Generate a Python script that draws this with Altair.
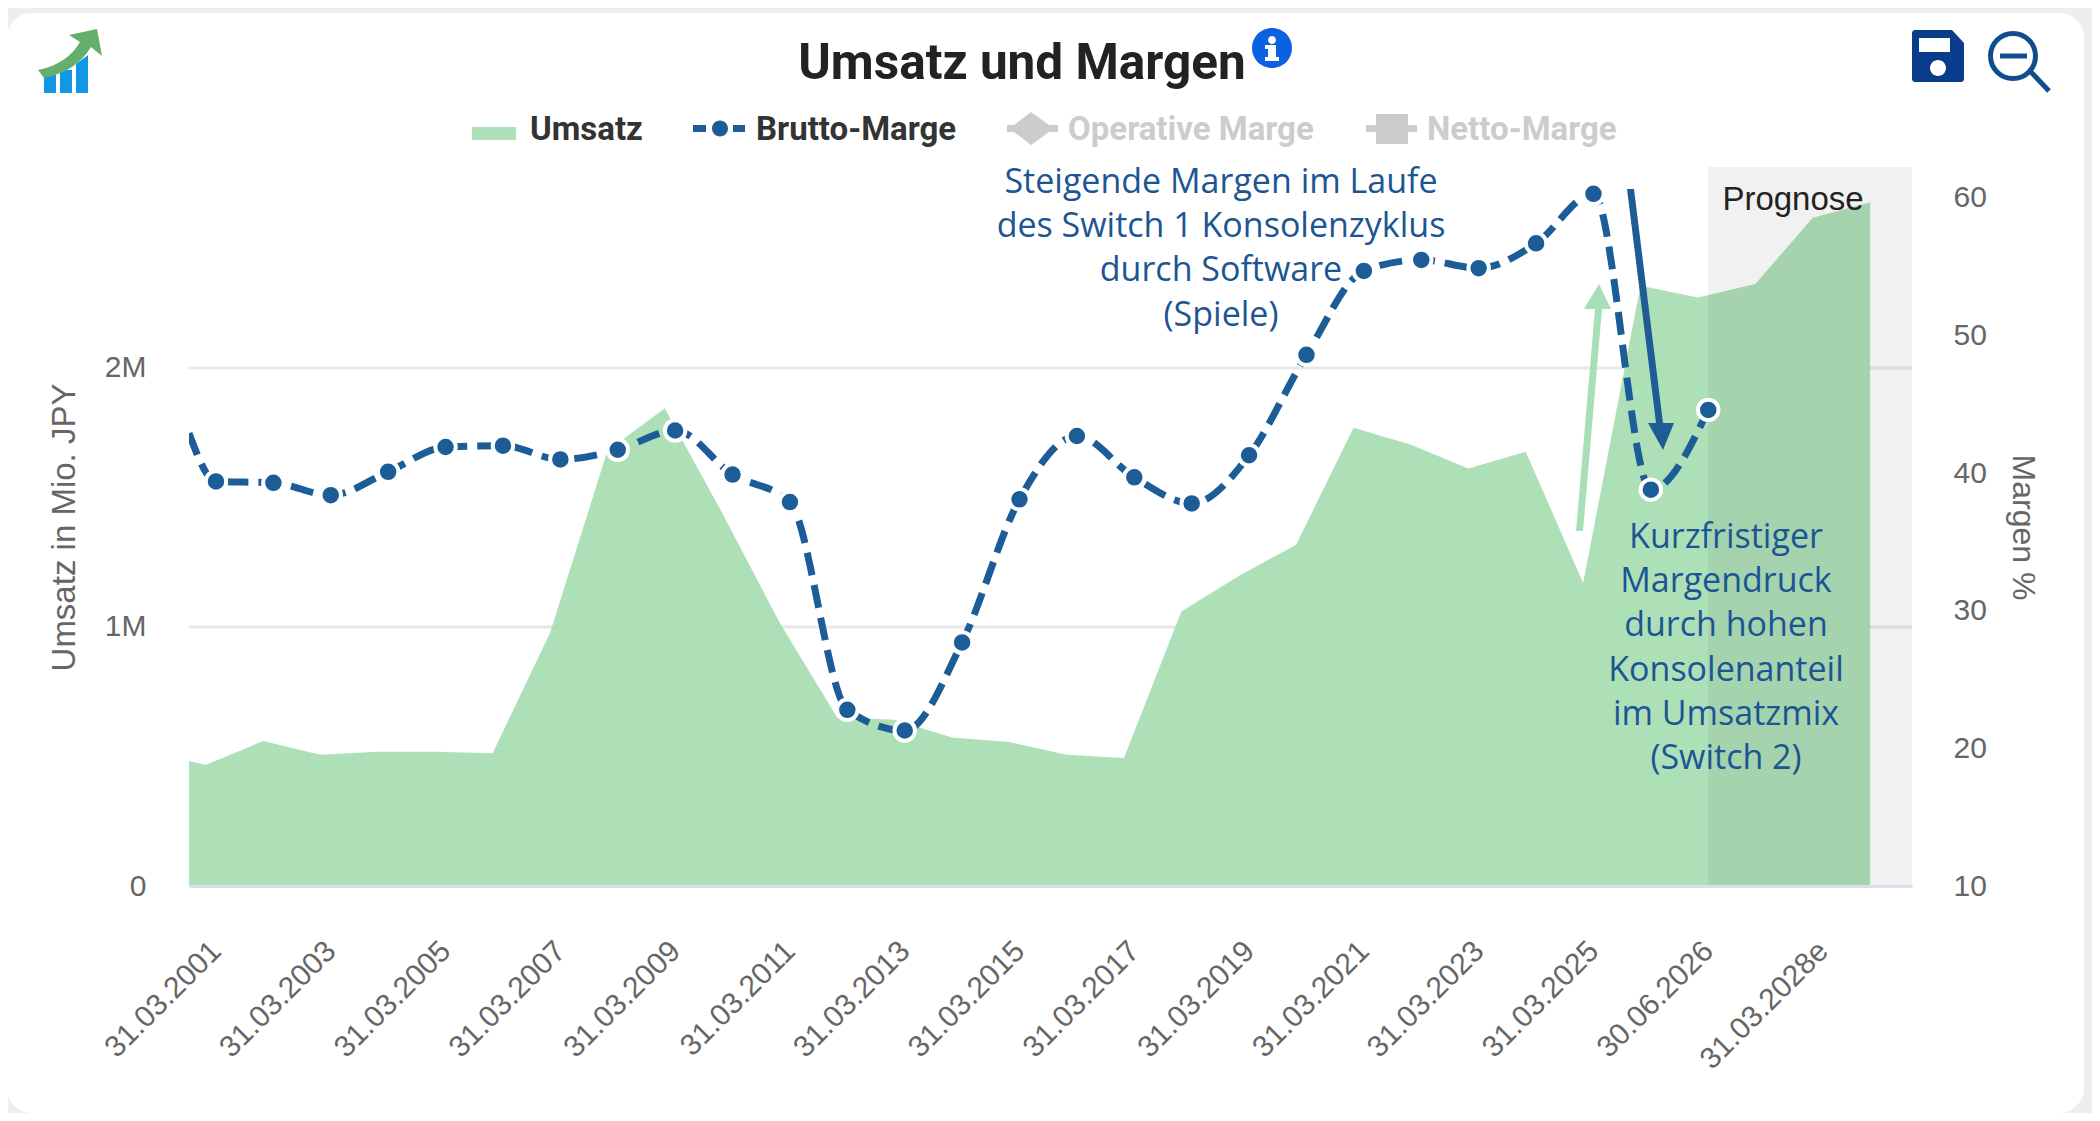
import altair as alt
import pandas as pd

categories = ["31.03.%d" % y for y in range(2001, 2027)] + ["30.06.2026", "31.03.2027e", "31.03.2028e"]
brutto = [39.4, 39.3, 38.4, 40.1, 41.9, 42.0, 41.0, 41.7, 43.1, 39.9, 37.9, 22.8, 21.3, 27.7, 38.1,
          42.7, 39.7, 37.8, 41.3, 48.6, 54.7, 55.5, 54.9, 56.7, 60.3, 38.8, 44.6]
brutto_start = 42.9
umsatz = [0.467, 0.56, 0.507, 0.518, 0.518, 0.513, 0.977, 1.68, 1.845, 1.44, 1.017, 0.652, 0.642, 0.573,
          0.556, 0.507, 0.494, 1.06, 1.197, 1.318, 1.769, 1.704, 1.612, 1.677, 1.17, 2.318, 2.272, 2.324,
          2.58, 2.64]
umsatz_start = 0.483
left_ticks = [0, 1000000, 2000000]
right_ticks = [10, 20, 30, 40, 50, 60]
text_a = ["Steigende Margen im Laufe", "des Switch 1 Konsolenzyklus", "durch Software", "(Spiele)"]
text_b = ["Kurzfristiger", "Margendruck", "durch hohen", "Konsolenanteil", "im Umsatzmix", "(Switch 2)"]

OX, OY = 189, 167          # plot origin on the page photograph
W, H = 1723, 719
X0, X1 = -0.47, 29.55
AREA_SHIFT = -0.18
FONT = "Liberation Sans"
BLUE = "#1c5c97"
GREY = "#666666"
OFF = "#cccccc"

one = alt.Data(values=[{"a": 1}])

df_area = pd.DataFrame({"x": [X0] + [i + AREA_SHIFT for i in range(len(umsatz))],
                        "v": [v * 1e6 for v in [umsatz_start] + umsatz]})
df_line = pd.DataFrame({"x": [X0] + list(range(len(brutto))), "v": [brutto_start] + brutto})
df_pts = pd.DataFrame({"x": list(range(len(brutto))), "v": brutto})
df_grid = pd.DataFrame({"v": left_ticks[1:]})
df_band = pd.DataFrame({"x": [categories.index("30.06.2026")], "x2": [X1]})

xs = alt.Scale(domain=[X0, X1], nice=False, zero=False)
yl = alt.Scale(domain=[0, 2776000], nice=False, zero=False)
yr = alt.Scale(domain=[10, 62.25], nice=False, zero=False)

label_expr = "[" + ",".join("'%s'" % c for c in categories) + "][datum.value]"
x_axis = alt.Axis(values=list(range(0, len(categories), 2)), labelExpr=label_expr, labelAngle=315,
                  labelAlign="right", labelBaseline="middle", labelPadding=60, labelFontSize=30, labelFont=FONT,
                  labelColor=GREY, labelOverlap=False, labelFlush=False, labelBound=False, ticks=False,
                  grid=False, domainColor="#d8e0ee", domainWidth=3, title=None, zindex=1)
y_left_axis = alt.Axis(values=left_ticks, labelExpr="datum.value == 0 ? '0' : (datum.value / 1000000) + 'M'",
                       labelFontSize=30, labelFont=FONT, labelColor=GREY, labelPadding=43, ticks=False, domain=False,
                       grid=False, title="Umsatz in Mio. JPY", titleFont=FONT, titleFontSize=33,
                       titleFontWeight="normal", titleColor=GREY, titleX=64 - OX, titleY=527 - OY,
                       titleAngle=270, titleBaseline="middle", titleAlign="center", zindex=1)
y_right_axis = alt.Axis(orient="right", values=right_ticks, labelFontSize=30, labelFont=FONT, labelColor=GREY,
                        labelPadding=41, ticks=False, domain=False, grid=False, title="Margen %", titleFont=FONT,
                        titleFontSize=32, titleFontWeight="normal", titleColor=GREY, titleX=2022 - OX - W,
                        titleY=527 - OY, titleAngle=90, titleBaseline="middle", titleAlign="center", zindex=1)


def shape(path, fill=None, stroke=None, sw=0, dash=None):
    kw = dict(shape=path, size=4, opacity=1)
    if fill:
        kw.update(filled=True, fill=fill, strokeWidth=0)
    else:
        kw.update(filled=False, stroke=stroke, strokeWidth=sw, fillOpacity=0, strokeCap="butt")
    return alt.Chart(one).mark_point(**kw).encode(x=alt.value(-OX), y=alt.value(-OY))


def label(txt, px, py, size, color, weight="normal", align="left", font=FONT, baseline="alphabetic"):
    return alt.Chart(one).mark_text(text=txt, font=font, fontSize=size, fontWeight=weight, color=color,
                                    align=align, baseline=baseline).encode(
        x=alt.value(px - OX), y=alt.value(py - OY))


card = shape("M32 13 H2059 A25 25 0 0 1 2084 38 V1088 A25 25 0 0 1 2059 1113 H32 A25 25 0 0 1 7 1088 V38 "
             "A25 25 0 0 1 32 13 Z", fill="#ffffff")

grid = alt.Chart(df_grid).mark_rule(color="#e8e8e8", strokeWidth=3).encode(
    y=alt.Y("v:Q", scale=yl, axis=None))

area = alt.Chart(df_area).mark_area(color="#a5ddb0", opacity=0.9, interpolate="linear").encode(
    x=alt.X("x:Q", scale=xs, axis=x_axis),
    y=alt.Y("v:Q", scale=yl, axis=y_left_axis))

band = alt.Chart(df_band).mark_rect(color="#000000", opacity=0.055).encode(
    x=alt.X("x:Q", scale=xs, axis=x_axis), x2="x2:Q", y=alt.value(0), y2=alt.value(H))

line = alt.Chart(df_line).mark_line(color=BLUE, strokeWidth=7, strokeDash=[23, 10], interpolate="monotone",
                                    clip=True).encode(
    x=alt.X("x:Q", scale=xs, axis=x_axis),
    y=alt.Y("v:Q", scale=yr, axis=y_right_axis))

pts = alt.Chart(df_pts).mark_point(filled=True, fill=BLUE, stroke="#ffffff", strokeWidth=4, size=420,
                                   opacity=1).encode(
    x=alt.X("x:Q", scale=xs, axis=x_axis),
    y=alt.Y("v:Q", scale=yr, axis=None))

# annotation arrows
arrow_green = shape("M1576 531 L1595 309 H1584 L1599 284 L1611 309 H1602 L1583 531 Z", fill="#a9dfb8")
arrow_blue = shape("M1627 189 H1634 L1663 423 H1674 L1663 450 L1648 423 H1656 Z", fill="#1f5c96")

# title block
title = label("Umsatz und Margen", 1022, 79, 49.5, "#222222", weight="bold", align="center", font="Roboto")
info = shape("M1292 48 A20 20 0 1 1 1252 48 A20 20 0 1 1 1292 48 Z", fill="#0a62e0")
info_i = shape("M1268 45 H1276 V57 H1279 V61 H1265 V57 H1268 V49 H1265 V45 Z "
               "M1276 40 A4 4 0 1 1 1268 40 A4 4 0 1 1 1276 40 Z", fill="#ffffff")

# app icons
bars = shape("M44 75 H56 V93 H44 Z M60 70 H72 V93 H60 Z M76 64 L88 55 V93 H76 Z", fill="#1296e6")
trend = shape("M38 70 C58 66 72 56 80 42 L69 35 L97 29 L102 56 L91 47 C81 64 64 74 44 78 Z", fill="#62b06c")
save = shape("M1915 30 H1952 L1964 43 V79 A3 3 0 0 1 1961 82 H1915 A3 3 0 0 1 1912 79 V33 A3 3 0 0 1 1915 30 Z",
             fill="#0a3c8c")
save_w = shape("M1919 38 H1950 V52 H1919 Z M1946 68 A8 8 0 1 1 1930 68 A8 8 0 1 1 1946 68 Z", fill="#ffffff")
zoom_i = shape("M2035.5 56 A22.5 22.5 0 1 1 1990.5 56 A22.5 22.5 0 1 1 2035.5 56 Z M2000 56 H2027 "
               "M2031 72 L2049 91", stroke="#0f4e8c", sw=5)

# legend
leg_u = shape("M472 127 H516 V140 H472 Z", fill="#aee0b9")
leg_b = shape("M693 125 H706 V132 H693 Z M733 125 H745 V132 H733 Z M728 128.5 A8 8 0 1 1 712 128.5 "
              "A8 8 0 1 1 728 128.5 Z", fill=BLUE)
leg_o = shape("M1007 125 H1014 L1031 112 L1049 125 H1058 V132 H1049 L1031 145 L1014 132 H1007 Z", fill=OFF)
leg_n = shape("M1366 125 H1376 V114 H1408 V125 H1417 V132 H1408 V144 H1376 V132 H1366 Z", fill=OFF)
leg_texts = [label("Umsatz", 530, 140, 33, "#333333", "bold", font="Roboto"),
             label("Brutto-Marge", 756, 140, 33, "#333333", "bold", font="Roboto"),
             label("Operative Marge", 1068, 140, 33, OFF, "bold", font="Roboto"),
             label("Netto-Marge", 1427, 140, 33, OFF, "bold", font="Roboto")]

notes = [label(t, 1221, 183 + 44.2 * i, 34, "#1c5593", align="center", font="Open Sans", baseline="middle")
         for i, t in enumerate(text_a)]
notes += [label(t, 1726, 538 + 44.2 * i, 34, "#1c5593", align="center", font="Open Sans", baseline="middle")
          for i, t in enumerate(text_b)]
prognose = label("Prognose", 1793, 200, 33, "#222222", align="center", baseline="middle")

TOTAL_W, TOTAL_H = 2084, 1105
chart = alt.layer(card, grid, area, band, prognose, line, pts, arrow_green, arrow_blue,
                  title, info, info_i, bars, trend, save, save_w, zoom_i,
                  leg_u, leg_b, leg_o, leg_n, *leg_texts, *notes).resolve_scale(y="independent").properties(
    width=W, height=H, background="#eeeeee", autosize=alt.AutoSizeParams(type="none"),
    padding={"left": OX - 8, "top": OY - 8, "right": TOTAL_W - (OX - 8) - W, "bottom": TOTAL_H - (OY - 8) - H}
).configure_view(stroke=None)

chart.save("out.html", embed_options={"renderer": "svg", "actions": False})
